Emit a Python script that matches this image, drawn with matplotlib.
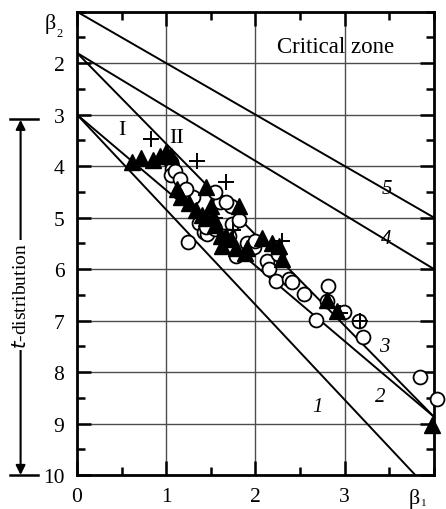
import matplotlib
matplotlib.use("Agg")
import matplotlib.pyplot as plt
from matplotlib.ticker import MultipleLocator
import matplotlib.transforms as mtransforms

plt.rcParams['font.family'] = ['Liberation Serif', 'DejaVu Serif']

# ---- data ----
tri_x = [0.62, 0.72, 0.85, 0.93, 1.00, 1.05, 1.12, 1.17, 1.45, 1.26, 1.33, 1.40, 1.52, 1.82,
         1.50, 1.67, 1.72, 1.78, 1.90, 2.07, 2.18, 2.26, 2.30, 1.88, 1.45, 1.55, 1.61, 1.63,
         2.80, 2.91, 3.98]
tri_y = [3.92, 3.85, 3.88, 3.80, 3.73, 3.80, 4.45, 4.60, 4.40, 4.72, 4.85, 4.95, 4.98, 4.77,
         4.78, 5.36, 5.42, 5.60, 5.60, 5.40, 5.50, 5.55, 5.80, 5.68, 5.00, 5.15, 5.35, 5.55,
         6.60, 6.82, 9.02]

circ_x = [1.05, 1.07, 1.05, 1.10, 1.15, 1.24, 1.37, 1.42, 1.46, 1.55, 1.65, 1.72, 1.74, 1.70,
          1.82, 1.91, 1.78, 1.60, 1.55, 1.98, 2.13, 2.15, 2.23, 2.37, 2.41, 2.54, 2.81, 2.80,
          2.68, 2.99, 3.16, 3.20, 3.84, 4.03, 1.30, 1.50, 2.00, 2.25, 1.22, 1.45, 1.67]
circ_y = [3.92, 4.05, 4.18, 4.10, 4.25, 5.47, 5.10, 5.28, 5.32, 5.22, 5.36, 4.77, 5.12, 5.35,
          5.05, 5.50, 5.74, 4.70, 4.50, 5.57, 5.84, 6.00, 6.23, 6.19, 6.25, 6.48, 6.32, 6.62,
          6.98, 6.83, 7.00, 7.32, 8.09, 8.52, 4.60, 5.05, 5.45, 5.70, 4.45, 5.18, 4.70]

plus_x = [0.83, 1.35, 1.67, 2.30, 3.17, 2.95, 1.55, 1.75]
plus_y = [3.47, 3.90, 4.31, 5.45, 7.00, 6.85, 5.00, 5.25]

# boundary lines: (x0, y0, x1, y1) and label
line_names = ['1', '2', '3', '4', '5']
line_x0 = [0, 0, 0, 0, 0]
line_y0 = [3.0, 3.0, 1.8, 1.8, 1.0]
line_x1 = [3.79, 4.0, 4.0, 4.0, 4.0]
line_y1 = [10.0, 8.87, 8.87, 6.0, 5.0]
label_x = [2.69, 3.40, 3.44, 3.47, 3.47]
label_y = [8.66, 8.48, 7.51, 5.41, 4.44]

ytick_vals = [2, 3, 4, 5, 6, 7, 8, 9, 10]
xtick_vals = [0, 1, 2, 3]

# ---- figure ----
fig = plt.figure(figsize=(4.46, 5.10), dpi=100)
ax = fig.add_axes([77 / 446, 34 / 510, 357 / 446, 463.3 / 510])
ax.set_xlim(0, 4)
ax.set_ylim(10, 1)

for v in [2, 3, 4, 5, 6, 7, 8, 9]:
    ax.axhline(v, color='0.3', lw=1.0, zorder=1)
for v in [1, 2, 3]:
    ax.axvline(v, color='0.3', lw=1.0, zorder=1)

for x0, y0, x1, y1 in zip(line_x0, line_y0, line_x1, line_y1):
    ax.plot([x0, x1], [y0, y1], color='black', lw=1.4, zorder=2, clip_on=True)
for name, lx, ly in zip(line_names, label_x, label_y):
    ax.text(lx, ly, name, fontsize=15, style='italic', ha='center', va='center', zorder=3)

ax.plot(circ_x, circ_y, 'o', ms=10, mfc='white', mec='black', mew=1.3, zorder=4, clip_on=False)
ax.plot(tri_x, tri_y, '^', ms=11, color='black', zorder=5, clip_on=False)
ax.plot(plus_x, plus_y, '+', ms=11, color='black', mew=1.4, zorder=6, clip_on=False)

ax.text(0.5, 3.28, 'I', fontsize=16, ha='center', va='center')
ax.text(1.12, 3.44, 'II', fontsize=16, ha='center', va='center')
ax.text(2.9, 1.67, 'Critical zone', fontsize=16.5, ha='center', va='center')

# ticks
ax.set_xticks(xtick_vals)
ax.set_xticklabels([str(v) for v in xtick_vals])
ax.set_yticks(ytick_vals)
ax.set_yticklabels([str(v) for v in ytick_vals])
ax.xaxis.set_minor_locator(MultipleLocator(0.5))
ax.yaxis.set_minor_locator(MultipleLocator(0.5))
ax.tick_params(which='both', direction='in', top=True, right=True, width=1.8, labelsize=15.5, pad=9)
ax.tick_params(which='major', length=10)
ax.tick_params(which='minor', length=5.5)
for s in ax.spines.values():
    s.set_linewidth(2.0)

# axis name labels (beta)
ytr = mtransforms.blended_transform_factory(ax.transAxes, ax.transData)
ax.text(-0.06, 1.22, 'β', fontsize=16, ha='right', va='center', transform=ytr)
ax.text(-0.058, 1.42, '2', fontsize=9, ha='left', va='center', transform=ytr)
xtr = mtransforms.blended_transform_factory(ax.transData, ax.transAxes)
ax.text(3.84, -0.05, 'β', fontsize=16, ha='right', va='center', transform=xtr)
ax.text(3.85, -0.06, '1', fontsize=8, ha='left', va='center', transform=xtr)

# t-distribution arrow on the left
ax.annotate('', xy=(-0.158, 3.1), xytext=(-0.158, 10.0), xycoords=ytr, textcoords=ytr,
            arrowprops=dict(arrowstyle='<|-|>', color='black', lw=1.5, mutation_scale=14,
                            shrinkA=0, shrinkB=0), annotation_clip=False)
ax.plot([-0.188, -0.11], [3.08, 3.08], color='black', lw=1.8, transform=ytr, clip_on=False)
ax.plot([-0.188, -0.11], [10.0, 10.0], color='black', lw=1.8, transform=ytr, clip_on=False)
ax.text(-0.158, 6.5, '$\\it{t}$-distribution', fontsize=14, rotation=90, ha='center', va='center',
        transform=ytr, bbox=dict(facecolor='white', edgecolor='none', pad=1.5))

fig.savefig('out.png', dpi=100)
